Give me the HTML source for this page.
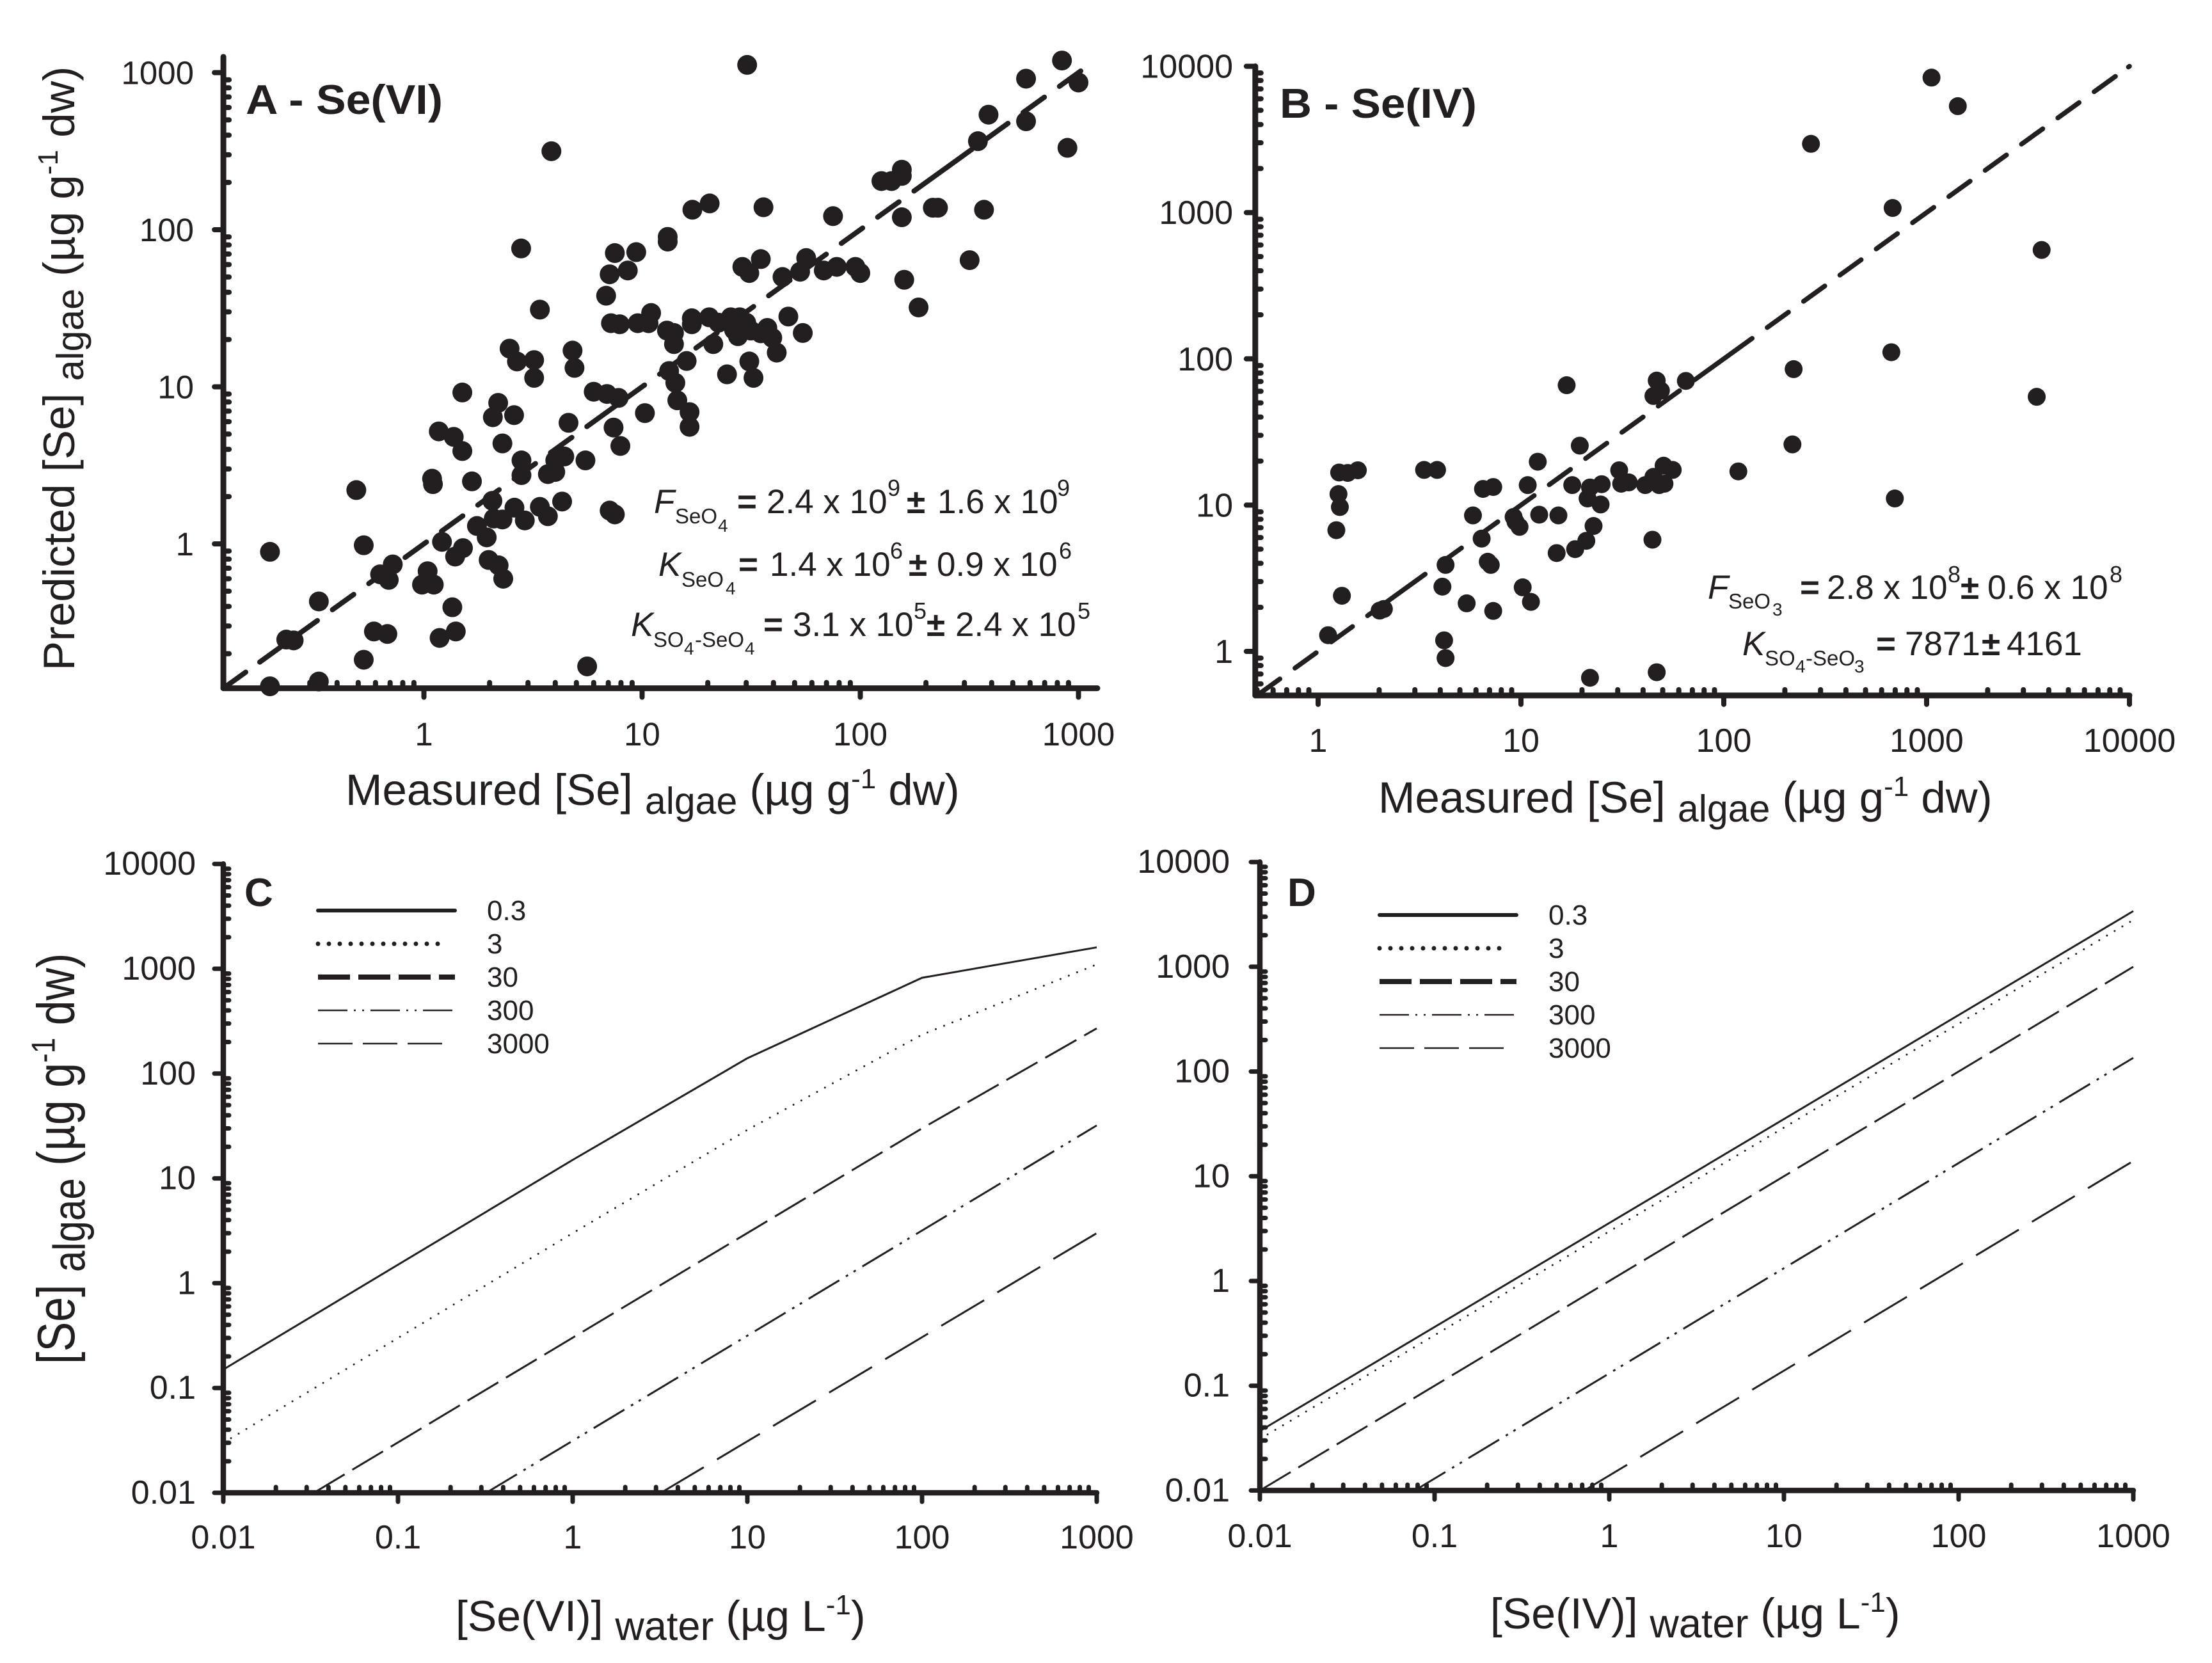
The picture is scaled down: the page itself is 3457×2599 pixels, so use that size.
<!DOCTYPE html>
<html lang="en">
<head>
<meta charset="utf-8">
<title>Predicted and measured selenium in algae</title>
<style>
html,body{margin:0;padding:0;background:#fff;}
svg{display:block;}
text{font-family:"Liberation Sans",Arial,sans-serif;fill:#231f20;}
</style>
</head>
<body>
<svg id="fig" width="3457" height="2599" viewBox="0 0 3457 2599" xmlns="http://www.w3.org/2000/svg">
<rect width="3457" height="2599" fill="#fff"/>
<g id="pA"></g>
<g id="pB"></g>
<g id="pC"></g>
<g id="pD"></g>

<text x="384" y="178" font-size="65" font-weight="bold" textLength="308" lengthAdjust="spacingAndGlyphs">A - Se(VI)</text>
<text x="2000" y="184" font-size="65" font-weight="bold" textLength="308" lengthAdjust="spacingAndGlyphs">B - Se(IV)</text>
<text x="382" y="1416" font-size="62" font-weight="bold">C</text>
<text x="2012" y="1416" font-size="62" font-weight="bold">D</text>

<text x="540" y="1258" font-size="69">Measured [Se] <tspan font-size="59" dy="14">algae</tspan><tspan dy="-14"> (µg g</tspan><tspan font-size="44" dy="-26">-1</tspan><tspan dy="26"> dw)</tspan></text>
<text x="2154" y="1270" font-size="69">Measured [Se] <tspan font-size="59" dy="14">algae</tspan><tspan dy="-14"> (µg g</tspan><tspan font-size="44" dy="-26">-1</tspan><tspan dy="26"> dw)</tspan></text>
<text transform="translate(116,1048) rotate(-90)" font-size="69">Predicted [Se] <tspan font-size="59" dy="14">algae</tspan><tspan dy="-14"> (µg g</tspan><tspan font-size="44" dy="-26">-1</tspan><tspan dy="26"> dw)</tspan></text>
<text transform="translate(116,2132) rotate(-90) scale(1,1.18)" font-size="70">[Se] <tspan font-size="60" dy="14">algae</tspan><tspan dy="-14"> (µg g</tspan><tspan font-size="44" dy="-26">-1</tspan><tspan dy="26"> dw)</tspan></text>
<text x="712" y="2549" font-size="68">[Se(VI)] <tspan font-size="63" dy="14">water</tspan><tspan dy="-14"> (µg L</tspan><tspan font-size="44" dy="-26">-1</tspan><tspan dy="26">)</tspan></text>
<text x="2329" y="2545" font-size="68">[Se(IV)] <tspan font-size="63" dy="14">water</tspan><tspan dy="-14"> (µg L</tspan><tspan font-size="44" dy="-26">-1</tspan><tspan dy="26">)</tspan></text>

<g font-size="53">
<text><tspan x="1022" y="802" font-style="italic">F</tspan><tspan x="1055" y="818" font-size="33">SeO</tspan><tspan x="1122" y="831" font-size="28">4</tspan><tspan x="1152" y="802" font-weight="bold">=</tspan><tspan x="1198" y="802">2.4 x 10</tspan><tspan x="1387" y="775" font-size="36">9</tspan><tspan x="1417" y="802" font-weight="bold">±</tspan><tspan x="1465" y="802">1.6 x 10</tspan><tspan x="1652" y="775" font-size="36">9</tspan></text>
<text><tspan x="1029" y="900" font-style="italic">K</tspan><tspan x="1065" y="917" font-size="33">SeO</tspan><tspan x="1134" y="929" font-size="28">4</tspan><tspan x="1154" y="900" font-weight="bold">=</tspan><tspan x="1203" y="900">1.4 x 10</tspan><tspan x="1391" y="873" font-size="36">6</tspan><tspan x="1420" y="900" font-weight="bold">±</tspan><tspan x="1464" y="900">0.9 x 10</tspan><tspan x="1655" y="873" font-size="36">6</tspan></text>
<text><tspan x="986" y="994" font-style="italic">K</tspan><tspan x="1021" y="1011" font-size="33">SO</tspan><tspan x="1069" y="1023" font-size="28">4</tspan><tspan x="1086" y="1011" font-size="33">-SeO</tspan><tspan x="1164" y="1023" font-size="28">4</tspan><tspan x="1193" y="994" font-weight="bold">=</tspan><tspan x="1239" y="994">3.1 x 10</tspan><tspan x="1428" y="967" font-size="36">5</tspan><tspan x="1448" y="994" font-weight="bold">±</tspan><tspan x="1493" y="994">2.4 x 10</tspan><tspan x="1684" y="967" font-size="36">5</tspan></text>
</g>
<g font-size="53">
<text><tspan x="2669" y="936" font-style="italic">F</tspan><tspan x="2701" y="951" font-size="33">SeO</tspan><tspan x="2770" y="962" font-size="28">3</tspan><tspan x="2813" y="936" font-weight="bold">=</tspan><tspan x="2855" y="936">2.8 x 10</tspan><tspan x="3044" y="910" font-size="36">8</tspan><tspan x="3064" y="936" font-weight="bold">±</tspan><tspan x="3106" y="936">0.6 x 10</tspan><tspan x="3297" y="910" font-size="36">8</tspan></text>
<text><tspan x="2723" y="1024" font-style="italic">K</tspan><tspan x="2758" y="1040" font-size="33">SO</tspan><tspan x="2806" y="1051" font-size="28">4</tspan><tspan x="2822" y="1040" font-size="33">-SeO</tspan><tspan x="2898" y="1051" font-size="28">3</tspan><tspan x="2932" y="1024" font-weight="bold">=</tspan><tspan x="2977" y="1024">7871</tspan><tspan x="3097" y="1024" font-weight="bold">±</tspan><tspan x="3136" y="1024">4161</tspan></text>
</g>

<script>
// ---- Panel A data: measured / predicted [Se] algae
var panelAMeasured = [30.3,840,575,1000,575,387,890,346,3.84,125,139,155,155,155,75,36,20.4,17,215,227,369,13.1,13.1,2.79,7.5,9.4,7.1,8.6,6.84,28.8,31,35,317,159,185,44,53,56.5,68,78,95,100,3.4,7.2,7.9,9.55,10.7,11,13,14,14,16.9,16.9,20.3,21.2,22.4,25.5,28,26.4,27.5,30,31.5,35,37.5,39.5,41.4,46.8,54.5,24.5,31,32.4,16,13.3,14.2,14.5,16.5,16.5,10.3,7.8,6.9,6,7.4,7.95,4.8,4.9,2.47,2.67,3.2,3.2,1.5,2.19,2.07,2.59,1.17,1.37,1.5,2.29,4.6,5.5,4.4,4,4,3.7,2.8,2.8,1.09,1.1,1.66,2.06,4.3,2.6,3.4,7.1,7.5,3.7,2.09,2.29,2.9,1.75,1.94,0.49,0.53,0.197,1.21,1.51,1.39,1.98,2.2,2.31,0.72,0.63,0.69,1.04,0.98,1.11,0.33,1.35,0.234,0.253,0.59,0.68,1.18,1.4,0.53,5.6,0.197,0.33];
var panelAPredicted = [1120,1194,915,865,490,540,332,366,316,204,204,241,220,120,122,139,147,134,138,138,134,90,84,76,71,72,52,55,38,58,53,65,64,48,32,50,54,66,55,58,58,53,31,25.4,25,25.4,25.4,29.5,22.8,22,18.7,27.3,25,27.7,18.7,25.6,27.7,27.7,23,21,25.6,22.8,21.9,23.7,20.5,16.5,28,22,12,14.5,11.4,14.6,12.6,10.6,8.2,6.9,5.56,6.8,8.5,9,9.3,5.5,4.2,17,13.2,17.5,14.5,14.8,11.4,9.2,7.9,6.4,6.6,5.2,4.8,3.9,4.36,5.9,3.4,3.6,3.4,2.87,2.78,3.4,2.74,2.6,2.4,2.5,1.88,1.86,1.7,1.72,1.63,1.54,1.5,1.45,1.43,1.41,1.3,1.1,2.2,0.98,0.89,1.03,0.94,0.83,0.79,0.73,0.6,0.74,0.64,0.59,0.67,0.55,0.55,0.43,0.395,0.246,0.243,0.277,0.267,0.252,0.277,0.183,0.166,0.124,0.133];
var panelAFit = [0.1205, 1200];
var panelATicksX = ["1","10","100","1000"];
var panelATicksY = ["1","10","100","1000"];

// ---- Panel B data
var panelBMeasured = [1057,1425,269,680,3690,670,3490,697,221,218,118,65,46.7,49,45,16.8,19.5,12.1,7.3,6.5,10.8,17.9,21.9,25,21.3,24.7,30.5,31.2,34,41,45,48,51,50.5,56,1.27,1.4,1.57,3.33,3.86,1.26,1.28,1.23,5.8,9.2,9.4,9.84,12.3,15.3,22.8,21,18.5,15,44.5,6.4,6.86,7.1,4.25,4.1,10.2,11.2,5.4,7.3,1.31,2.01,2.11,1.12,4.18,4.25,21.9,46.7];
var panelBPredicted = [8370,5340,2950,1075,555,111,55,11.1,85,26,17,70.6,71,60.6,55.7,66,25.5,19.8,13.3,12.9,13.7,13.7,13.2,13.9,11.1,10.1,17.3,14,14.3,13.7,15.6,13.7,14,18.6,17.4,16.7,16.6,17.3,17.4,17.4,11.9,9.7,6.74,8.5,8.3,7.7,7.1,8.6,8.5,7.2,5.7,5,4.7,5.8,5.9,4.1,3.9,3.9,2.77,2.74,2.18,2.13,1.89,2.4,1.9,1.95,1.29,1.19,0.9,0.66,0.72];
var panelBFit = [0.5, 10000];
var panelBTicksX = ["1","10","100","1000","10000"];
var panelBTicksY = ["1","10","100","1000","10000"];

// ---- Panel C model curves
var panelCWater03 = [0.01,1,10,100,1000];
var panelCAlgae03 = [0.15,15,140,820,1600];
var panelCWater3 = [0.01,1,10,100,1000];
var panelCAlgae3 = [0.03,3,29,235,1100];
var panelCWater30 = [0.033,100,1000];
var panelCAlgae30 = [0.01,30,270];
var panelCWater300 = [0.32,1000];
var panelCAlgae300 = [0.01,32];
var panelCWater3000 = [3.2,1000];
var panelCAlgae3000 = [0.01,3];

// ---- Panel D model curves
var panelDWater03 = [0.01,1000];
var panelDAlgae03 = [0.037,3400];
var panelDWater3 = [0.01,1000];
var panelDAlgae3 = [0.031,2800];
var panelDWater30 = [0.01,1000];
var panelDAlgae30 = [0.01,1000];
var panelDWater300 = [0.077,1000];
var panelDAlgae300 = [0.01,135];
var panelDWater3000 = [0.72,1000];
var panelDAlgae3000 = [0.01,14];

var lowerTicksX = ["0.01","0.1","1","10","100","1000"];
var lowerTicksY = ["0.01","0.1","1","10","100","1000","10000"];
var legendLabels = ["0.3","3","30","300","3000"];

var INK = "#231f20";
var NS = "http://www.w3.org/2000/svg";
function mk(parent, tag, attrs) {
  var el = document.createElementNS(NS, tag);
  for (var k in attrs) el.setAttribute(k, attrs[k]);
  parent.appendChild(el);
  return el;
}
function logScale(refPixel, pixelsPerDecade) {
  return function (v) { return refPixel + pixelsPerDecade * Math.log10(v); };
}
function rep(s, n) { return new Array(n + 1).join(s); }
function drawAxes(root, sx, sy, box, labelsX, labelsY, style) {
  var xl = mk(root, 'line', {x1: sx(box.xMin), y1: sy(box.yMin), x2: sx(box.xMax), y2: sy(box.yMin), stroke: INK, 'stroke-width': style.axisW, 'stroke-linecap': 'round'});
  
  
  var yl = mk(root, 'line', {x1: sx(box.xMin), y1: sy(box.yMin), x2: sx(box.xMin), y2: sy(box.yMax), stroke: INK, 'stroke-width': style.axisW, 'stroke-linecap': 'round'});
  
  
  var d, m, v, t;
  for (d = -3; d <= 4; d++) {
    for (m = 1; m < 10; m++) {
      v = m * Math.pow(10, d);
      if (v >= box.xMin * 0.999 && v <= box.xMax * 1.001 && (m > 1 || labelsX.indexOf(String(v)) >= 0)) {
        t = mk(root, 'line', {x1: sx(v), x2: sx(v), y1: sy(box.yMin), y2: sy(box.yMin) + (m === 1 ? style.major : -style.minor), stroke: INK, 'stroke-width': m === 1 ? style.tickW : style.minorW, 'stroke-linecap': 'round'});
        
        
      }
      if (v >= box.yMin * 0.999 && v <= box.yMax * 1.001 && (m > 1 || labelsY.indexOf(String(v)) >= 0)) {
        t = mk(root, 'line', {y1: sy(v), y2: sy(v), x1: sx(box.xMin), x2: sx(box.xMin) + (m === 1 ? -style.major : style.minor), stroke: INK, 'stroke-width': m === 1 ? style.tickW : style.minorW, 'stroke-linecap': 'round'});
        
        
      }
    }
  }
  labelsX.forEach(function (s) {
    var e = mk(root, 'text', {x: sx(+s), y: style.xLabelY, 'font-size': style.font, 'text-anchor': 'middle'});
    
    
    e.textContent = s;
  });
  labelsY.forEach(function (s) {
    var e = mk(root, 'text', {x: style.yLabelX, y: sy(+s) + style.yLabelDy, 'font-size': style.font, 'text-anchor': 'end'});
    
    
    e.textContent = s;
  });
}
function drawDots(root, sx, sy, xs, ys, r) {
  xs.forEach(function (x, i) {
    var c = mk(root, 'circle', {cx: sx(x), cy: sy(ys[i]), r: r, fill: INK});
    
    
  });
}
function drawFit(root, sx, sy, from, to, dash, w) {
  var l = mk(root, 'line', {x1: sx(from), y1: sy(from), x2: sx(to), y2: sy(to), stroke: INK, 'stroke-width': w, 'stroke-dasharray': dash, 'stroke-linecap': 'round'});
  
  
}
function drawCurve(root, sx, sy, xs, ys, lineStyle) {
  var pts = xs.map(function (x, i) { return sx(x) + ',' + sy(ys[i]); }).join(' ');
  var p = mk(root, 'polyline', {points: pts, fill: 'none', stroke: INK, 'stroke-width': lineStyle.w, 'stroke-dasharray': lineStyle.dash, 'stroke-linecap': lineStyle.cap});
  
  
}
function drawLegend(root, box) {
  var styles = [
    {w: 6, dash: 'none', cap: 'round', x2: 0},
    {w: 7, dash: '0 17', cap: 'round', x2: -10},
    {w: 8, dash: '50 13', cap: 'butt', x2: 0},
    {w: 2.5, dash: '46 10 3 10 3 10', cap: 'butt', x2: 0},
    {w: 2.5, dash: '54 16', cap: 'butt', x2: -20}
  ];
  legendLabels.forEach(function (s, i) {
    var y = box.y + i * box.step;
    var l = mk(root, 'line', {x1: box.x, x2: box.x + 214 + styles[i].x2, y1: y, y2: y, stroke: INK, 'stroke-width': styles[i].w, 'stroke-dasharray': styles[i].dash, 'stroke-linecap': styles[i].cap});
    
    
    var t = mk(root, 'text', {x: box.x + 264, y: y + 15, 'font-size': 44});
    
    
    t.textContent = s;
  });
}

var upperStyle = {axisW: 9, tickW: 8, minorW: 8, major: 14, minor: 9, font: 51};
var lowerStyle = {axisW: 8.5, tickW: 7, minorW: 7, major: 14, minor: 9, font: 52};
var curveStyles = [
  {id: 'solid-0-3', w: 3, dash: 'none', cap: 'butt'},
  {id: 'dotted-3', w: 3, dash: '0 14', cap: 'round'},
  {id: 'dashed-30', w: 3, dash: '56 14', cap: 'butt'},
  {id: 'dash-dot-dot-300', w: 3, dash: '56 12 4 10 4 12', cap: 'butt'},
  {id: 'long-dash-3000', w: 3, dash: '78 24', cap: 'butt'}
];
var fitDashA = '43 27 ' + rep('111 29 ' + rep('41 29 ', 7), 3);
var fitDashB = '2 25 ' + rep('41 29 ', 10) + '111 29 ' + rep('41 29 ', 7) + '111 29 ' + rep('41 29 ', 10);

// Panel A
(function () {
  var root = document.getElementById('pA');
  var sx = logScale(662.5, 341), sy = logScale(850, -245.5);
  drawAxes(root, sx, sy, {xMin: 0.1205, xMax: 1220, yMin: 0.1205, yMax: 1260}, panelATicksX, panelATicksY,
    Object.assign({}, upperStyle, {xLabelY: 1165, yLabelX: 303, yLabelDy: 18}));
  drawFit(root, sx, sy, panelAFit[0], panelAFit[1], fitDashA, 8);
  drawDots(root, sx, sy, panelAMeasured, panelAPredicted, 15.5);
})();
// Panel B
(function () {
  var root = document.getElementById('pB');
  var sx = logScale(2060, 317), sy = logScale(1018, -228.6);
  drawAxes(root, sx, sy, {xMin: 0.49, xMax: 10000, yMin: 0.5, yMax: 10000}, panelBTicksX, panelBTicksY,
    Object.assign({}, upperStyle, {xLabelY: 1175, yLabelX: 1927, yLabelDy: 18, font: 52}));
  drawFit(root, sx, sy, panelBFit[1], panelBFit[0], fitDashB, 7.5);
  drawDots(root, sx, sy, panelBMeasured, panelBPredicted, 14);
})();
// Panel C
(function () {
  var root = document.getElementById('pC');
  var sx = logScale(895, 273), sy = logScale(2005.4, -163.8);
  drawAxes(root, sx, sy, {xMin: 0.01, xMax: 1000, yMin: 0.01, yMax: 10000}, lowerTicksX, lowerTicksY,
    Object.assign({}, lowerStyle, {xLabelY: 2420, yLabelX: 306, yLabelDy: 17}));
  drawCurve(root, sx, sy, panelCWater03, panelCAlgae03, curveStyles[0]);
  drawCurve(root, sx, sy, panelCWater3, panelCAlgae3, curveStyles[1]);
  drawCurve(root, sx, sy, panelCWater30, panelCAlgae30, curveStyles[2]);
  drawCurve(root, sx, sy, panelCWater300, panelCAlgae300, curveStyles[3]);
  drawCurve(root, sx, sy, panelCWater3000, panelCAlgae3000, curveStyles[4]);
  drawLegend(root, {x: 497, y: 1423, step: 52});
})();
// Panel D
(function () {
  var root = document.getElementById('pD');
  var sx = logScale(2515, 273), sy = logScale(2002, -163.7);
  drawAxes(root, sx, sy, {xMin: 0.01, xMax: 1000, yMin: 0.01, yMax: 10000}, lowerTicksX, lowerTicksY,
    Object.assign({}, lowerStyle, {xLabelY: 2418, yLabelX: 1922, yLabelDy: 17}));
  drawCurve(root, sx, sy, panelDWater03, panelDAlgae03, curveStyles[0]);
  drawCurve(root, sx, sy, panelDWater3, panelDAlgae3, curveStyles[1]);
  drawCurve(root, sx, sy, panelDWater30, panelDAlgae30, curveStyles[2]);
  drawCurve(root, sx, sy, panelDWater300, panelDAlgae300, curveStyles[3]);
  drawCurve(root, sx, sy, panelDWater3000, panelDAlgae3000, curveStyles[4]);
  drawLegend(root, {x: 2156, y: 1430, step: 52});
})();
</script>
</svg>
</body>
</html>
